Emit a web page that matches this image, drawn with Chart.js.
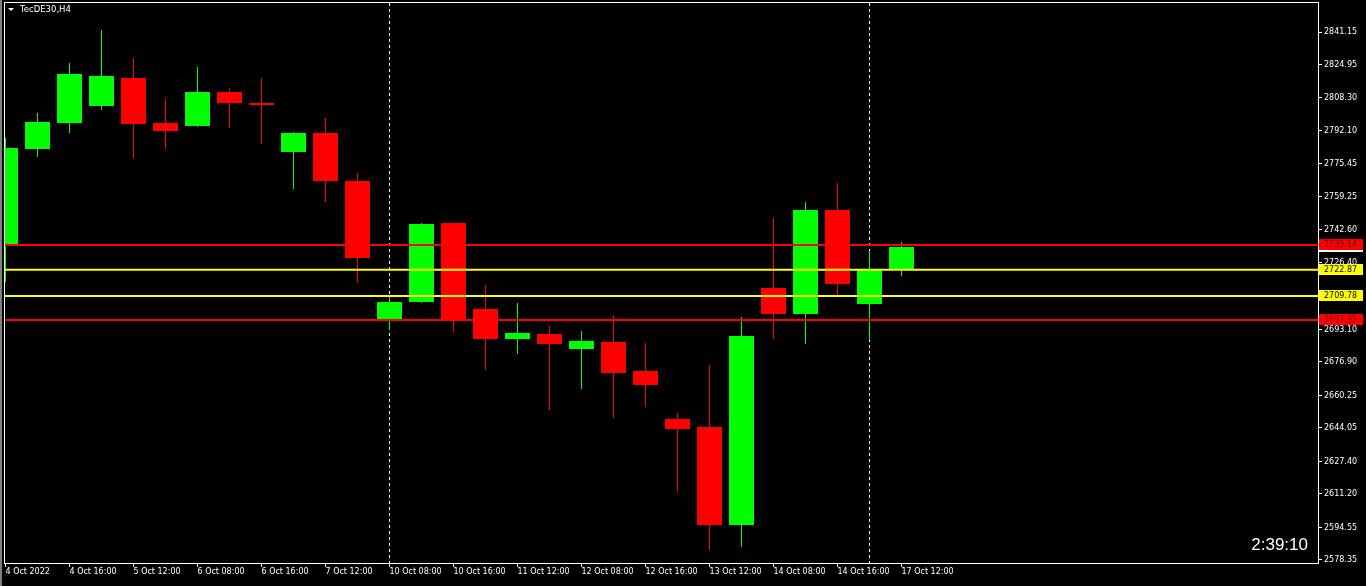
<!DOCTYPE html>
<html>
<head>
<meta charset="utf-8">
<title>TecDE30,H4</title>
<script src="https://cdn.jsdelivr.net/npm/chart.js@4.4.0/dist/chart.umd.min.js"></script>
<style>
  html, body { margin: 0; padding: 0; background: #000; overflow: hidden; }
  canvas { display: block; }
</style>
</head>
<body>
<canvas id="chart" width="1366" height="586"></canvas>
<script>
// H4 candles, 4 Oct 08:00 .. 17 Oct 12:00
const opens  = [2735.62, 2782.91, 2795.85, 2804.32, 2818.25, 2795.85, 2794.36, 2811.28, 2805.81, 2781.42,
                2790.88, 2766.98, 2698.29, 2706.75, 2746.08, 2703.27, 2688.34, 2690.83, 2683.36, 2686.84,
                2672.41, 2648.52, 2644.53, 2595.75, 2713.72, 2700.78, 2752.55, 2705.76, 2723.18];
const highs  = [2788.39, 2800.83, 2825.72, 2842.15, 2828.21, 2807.80, 2823.73, 2813.28, 2818.25, 2791.37,
                2798.34, 2770.97, 2709.24, 2746.08, 2746.58, 2715.22, 2706.26, 2694.81, 2692.32, 2700.28,
                2686.35, 2651.50, 2675.40, 2699.29, 2748.57, 2756.53, 2765.99, 2732.14, 2736.62];
const lows   = [2716.71, 2778.93, 2790.88, 2802.32, 2778.43, 2782.91, 2793.86, 2793.37, 2785.40, 2763.00,
                2756.53, 2716.21, 2692.82, 2706.25, 2691.82, 2672.91, 2680.87, 2653.00, 2663.45, 2649.01,
                2654.49, 2612.18, 2583.31, 2584.80, 2688.34, 2685.85, 2710.24, 2687.84, 2719.70];
const closes = [2783.41, 2796.35, 2820.24, 2819.25, 2795.36, 2791.87, 2811.28, 2805.81, 2804.81, 2790.88,
                2766.98, 2728.66, 2706.75, 2745.58, 2697.80, 2688.34, 2691.32, 2685.85, 2687.34, 2671.41,
                2665.44, 2643.54, 2595.75, 2689.83, 2700.78, 2752.55, 2715.71, 2722.68, 2734.13];

// time axis labels, one every second bar
const timeLabels = ['4 Oct 2022', '4 Oct 16:00', '5 Oct 12:00', '6 Oct 08:00', '6 Oct 16:00', '7 Oct 12:00',
                    '10 Oct 08:00', '10 Oct 16:00', '11 Oct 12:00', '12 Oct 08:00', '12 Oct 16:00',
                    '13 Oct 12:00', '14 Oct 08:00', '14 Oct 16:00', '17 Oct 12:00'];
const priceTicks = [2841.15, 2824.95, 2808.30, 2792.10, 2775.45, 2759.25, 2742.60, 2726.40,
                    2693.10, 2676.90, 2660.25, 2644.05, 2627.40, 2611.20, 2594.55, 2578.35];

// horizontal lines and week separators (bar index)
const levels = [2735.14, 2722.87, 2709.78, 2697.85];
const separators = [12, 27];
const countdown = '2:39:10';
const symbol = 'TecDE30,H4';

const UP = '#00ff00', DOWN = '#ff0000';
const levelColors = ['#ff0000', '#ffff00', '#ffff00', '#ff0000'];
const levelText = ['#700000', '#000000', '#000000', '#700000'];
const FONT = '"DejaVu Sans", sans-serif';

function candleColor(i){
  return closes[i] >= opens[i] ? UP : DOWN;
}

function noPad(s){
  s.paddingTop = 0;
  s.paddingBottom = 0;
  s.paddingLeft = 0;
  s.paddingRight = 0;
}

const overlay = {
  id: 'overlay',
  beforeDraw(chart){
    const {ctx, width, height} = chart;
    ctx.save();
    ctx.fillStyle = '#000';
    ctx.fillRect(0, 0, width, height);
    ctx.fillStyle = '#808080';
    ctx.fillRect(0, 0, 2, height);
    ctx.restore();
  },
  beforeDatasetsDraw(chart){
    const {ctx, chartArea} = chart;
    const xs = chart.scales.x;
    ctx.save();
    ctx.strokeStyle = '#ffffff';
    ctx.lineWidth = 1;
    ctx.setLineDash([3, 3]);
    separators.forEach(s => {
      const x = Math.floor(xs.getPixelForValue(s)) + 0.5;
      ctx.beginPath();
      ctx.moveTo(x, chartArea.top);
      ctx.lineTo(x, chartArea.bottom);
      ctx.stroke();
    });
    ctx.restore();
  },
  afterDraw(chart){
    const {ctx, chartArea} = chart;
    const ys = chart.scales.y;
    ctx.save();

    // frame
    ctx.strokeStyle = '#ffffff';
    ctx.lineWidth = 1;
    ctx.strokeRect(chartArea.left - 0.5, chartArea.top - 0.5,
                   chartArea.right - chartArea.left + 1, chartArea.bottom - chartArea.top + 1);

    // price labels on the right scale
    ctx.font = '8px ' + FONT;
    ctx.textBaseline = 'middle';
    ctx.textAlign = 'left';
    const bid = closes[closes.length - 1];
    const drawBox = (value, bg, fg) => {
      const y = Math.round(ys.getPixelForValue(value));
      ctx.fillStyle = bg;
      ctx.fillRect(chartArea.right + 1, y - 6, 44, 11);
      ctx.fillStyle = fg;
      ctx.fillText(value.toFixed(2), chartArea.right + 6, y);
    };
    drawBox(bid, '#ffffff', '#000000');
    levels.forEach((v, i) => drawBox(v, levelColors[i], levelText[i]));

    // symbol caption
    ctx.fillStyle = '#ffffff';
    ctx.beginPath();
    ctx.moveTo(8, 8);
    ctx.lineTo(14, 8);
    ctx.lineTo(11, 11);
    ctx.closePath();
    ctx.fill();
    ctx.font = '8.5px ' + FONT;
    ctx.fillText(symbol, 20, 10);

    // bar countdown
    ctx.font = '17px "Liberation Sans", sans-serif';
    ctx.textAlign = 'right';
    ctx.textBaseline = 'alphabetic';
    ctx.fillText(countdown, chartArea.right - 10, 550);

    ctx.restore();
  }
};

function init(){
  const idx = opens.map((_, i) => i);

  const bodies = idx.map(i => ({x: i, y: [opens[i], closes[i]]}));
  const wicks = idx.map(i => ({x: i, y: [lows[i], highs[i]]}));
  const colors = idx.map(candleColor);

  const xMin = -0.5 / 32, xMax = xMin + 1313 / 32;

  const levelSets = levels.map((v, i) => ({
    type: 'line',
    data: [{x: xMin, y: v}, {x: xMax, y: v}],
    borderColor: levelColors[i],
    borderWidth: 2,
    pointRadius: 0,
    order: 0
  }));

  new Chart(document.getElementById('chart'), {
    type: 'bar',
    data: {
      datasets: [
        ...levelSets,
        {
          data: bodies,
          backgroundColor: colors,
          borderWidth: 0,
          barThickness: 25,
          minBarLength: 1,
          inflateAmount: 0,
          grouped: false,
          order: 1
        },
        {
          data: wicks,
          backgroundColor: colors,
          borderWidth: 0,
          barThickness: 1,
          inflateAmount: 0,
          grouped: false,
          order: 2
        }
      ]
    },
    options: {
      responsive: false,
      animation: false,
      events: [],
      layout: {padding: {left: 5, top: 3, right: 0, bottom: 0}},
      plugins: {legend: {display: false}, tooltip: {enabled: false}},
      scales: {
        x: {
          type: 'linear',
          offset: false,
          min: xMin,
          max: xMax,
          afterFit: s => { s.height = 23; noPad(s); },
          afterBuildTicks: s => { s.ticks = timeLabels.map((_, i) => ({value: i * 2})); },
          grid: {drawOnChartArea: false, drawTicks: true, tickLength: 4, color: '#ffffff', offset: false},
          border: {display: false},
          ticks: {
            color: '#ffffff',
            font: {family: FONT, size: 8},
            padding: 0,
            align: 'start',
            maxRotation: 0,
            autoSkip: false,
            callback: v => timeLabels[v / 2]
          }
        },
        y: {
          type: 'linear',
          position: 'right',
          min: 2576.845,
          max: 2855.585,
          afterFit: s => { s.width = 48; noPad(s); },
          afterBuildTicks: s => { s.ticks = priceTicks.map(v => ({value: v})); },
          grid: {drawOnChartArea: false, drawTicks: true, tickLength: 4, color: '#ffffff'},
          border: {display: false},
          ticks: {
            color: '#ffffff',
            font: {family: FONT, size: 8},
            padding: 2,
            autoSkip: false,
            callback: v => Number(v).toFixed(2)
          }
        }
      }
    },
    plugins: [overlay]
  });
}

init();
</script>
</body>
</html>
